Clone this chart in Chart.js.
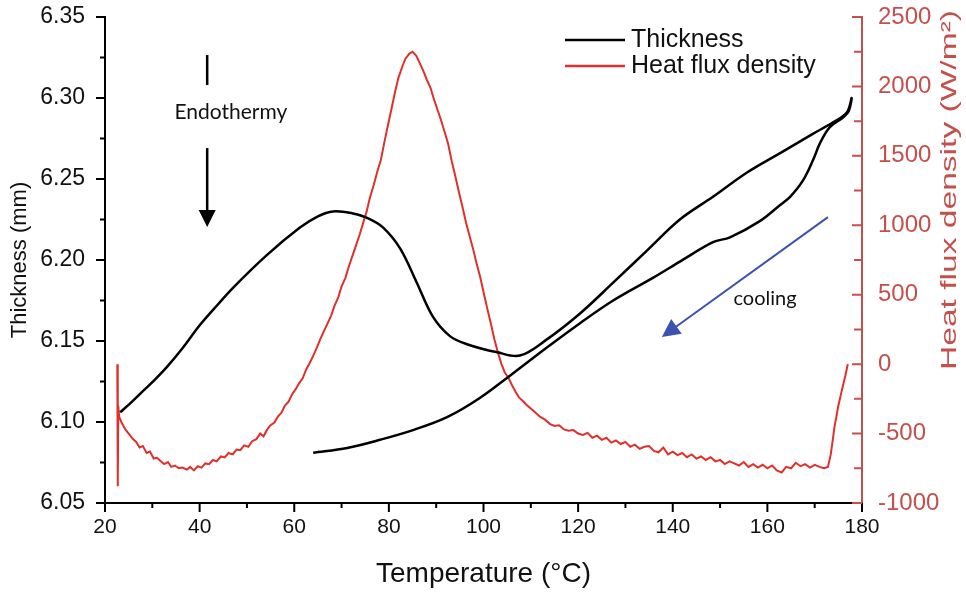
<!DOCTYPE html>
<html>
<head>
<meta charset="utf-8">
<script src="https://cdn.jsdelivr.net/npm/chart.js@4.4.1/dist/chart.umd.min.js"></script>
<style>
  html, body { margin: 0; padding: 0; background: #fff; }
  #wrap { width: 966px; height: 595px; position: relative; }
</style>
</head>
<body>
<div id="wrap"><canvas id="chart"></canvas></div>
<script>
// Thickness loop: heating 23 -> 178 °C, then cooling back to 64 °C
const thickTemp = [23.2, 25.5, 28, 30.5, 33.1, 36.5, 40.1, 44, 47.1, 54.2, 61.2, 65, 68.2, 72, 75.4, 78.8, 82.4, 85.9, 89.3, 92.9, 96.5, 102.9, 107.7,
    113.4, 120.4, 127.4, 134.6, 141.5, 148.5, 155.7, 162.7, 169.7, 173.9, 176.8, 177.8,
    177.2, 176.0, 173.2, 171.1, 169.7, 167.5, 164.8, 162.7, 158.4, 152.1, 148.5, 141.5, 135.8, 127.4, 120.4, 113.4,
    106.2, 99.3, 92.3, 85.1, 78.1, 71.2, 64.0];
const thickMM = [6.106, 6.112, 6.119, 6.126, 6.134, 6.146, 6.160, 6.173, 6.183, 6.203, 6.220, 6.227, 6.230, 6.229, 6.226, 6.220, 6.207, 6.186, 6.165, 6.153, 6.148, 6.143, 6.141,
    6.151, 6.167, 6.186, 6.206, 6.225, 6.239, 6.254, 6.266, 6.278, 6.285, 6.291, 6.300,
    6.292, 6.288, 6.282, 6.272, 6.262, 6.249, 6.239, 6.234, 6.224, 6.214, 6.211, 6.199, 6.189, 6.175, 6.161, 6.146,
    6.130, 6.115, 6.103, 6.095, 6.089, 6.084, 6.081];

// Heat flux density (W/m²)
const heatTemp = [22.6, 22.7, 22.8, 23.0, 23.5, 24.3, 25.0, 25.9, 26.6, 27.3, 28.0, 28.8, 29.5, 30.3, 31.0, 31.8, 32.5, 33.3, 34.0, 34.8,
    35.6, 36.4, 37.3, 38.0, 38.8, 39.6, 40.4, 41.2, 42.0, 42.8, 43.6, 44.5, 45.3, 46.1, 47.0, 47.8, 48.6, 49.4, 50.3, 51.1,
    52.0, 52.8, 53.5, 54.3, 55.0, 55.8, 56.5, 57.3, 58.0, 58.8, 59.5, 60.3, 61.0, 61.8, 62.5, 63.3, 64.0, 64.8, 65.5, 66.3,
    67.0, 67.8, 68.5, 69.3, 70.0, 70.8, 71.5, 72.3, 73.0, 73.8, 74.5, 75.3, 76.0, 76.8, 77.5, 78.3, 79.0, 79.8, 80.5, 81.3,
    82.0, 82.8, 83.5, 84.3, 85.0, 85.8, 86.5, 87.3, 88.0, 88.8, 89.5, 90.3, 91.0, 91.8, 92.5, 93.3, 94.0, 94.8, 95.5, 96.3,
    97.0, 97.8, 98.5, 99.3, 100.0, 100.8, 101.5, 102.3, 103.0, 103.8, 104.5, 105.3, 106.0, 106.8, 107.5, 108.3, 109.0, 110.0,
    111.0, 112.0, 113.0, 114.0, 115.0, 116.0, 117.0, 118.0, 119.0, 120.0, 121.0, 122.0, 123.0, 124.0, 125.0, 126.0, 127.0,
    128.0, 129.0, 130.0, 131.0, 132.0, 133.0, 134.0, 135.0, 136.0, 137.0, 138.0, 139.0, 140.0, 141.0, 142.0, 143.0, 144.0,
    145.0, 146.0, 147.0, 148.0, 149.0, 150.0, 151.0, 152.0, 153.0, 154.0, 155.0, 156.0, 157.0, 158.0, 159.0, 160.0, 161.0,
    162.0, 163.0, 164.0, 165.0, 166.0, 167.0, 168.0, 169.0, 170.0, 171.0, 172.0, 172.8, 173.4, 174.2, 175.0, 175.8, 176.5, 177.0];
const heatFlux = [0, -880, -300, -380, -420, -470, -500, -540, -560, -600, -590, -640, -630, -680, -675, -700, -720, -705, -740, -730,
    -750, -745, -760, -740, -765, -735, -745, -715, -720, -690, -700, -665, -672, -640, -650, -615, -620, -585, -595, -555,
    -540, -500, -520, -470, -440, -420, -380, -350, -300, -270, -220, -180, -140, -100, -40, 10, 60, 120, 180, 240,
    290, 350, 420, 480, 560, 620, 700, 780, 850, 930, 1010, 1100, 1200, 1290, 1380, 1470, 1590, 1720, 1830, 1960,
    2060, 2140, 2200, 2235, 2250, 2220, 2170, 2110, 2050, 1990, 1910, 1830, 1760, 1670, 1590, 1460, 1360, 1240, 1140, 1020,
    930, 830, 730, 628, 520, 400, 300, 180, 90, 0, -60, -100, -150, -200, -240, -265, -290, -320,
    -350, -380, -400, -430, -445, -440, -470, -480, -475, -500, -510, -495, -530, -515, -545, -530, -565,
    -550, -575, -560, -595, -580, -610, -595, -590, -625, -635, -600, -650, -630, -655, -640, -670, -650,
    -680, -665, -690, -670, -700, -690, -720, -700, -715, -730, -705, -740, -720, -745, -725, -750, -730,
    -765, -780, -740, -750, -710, -735, -720, -745, -725, -740, -750, -740, -650, -450, -300, -180, -80, 0];

const tempTicks = [20, 40, 60, 80, 100, 120, 140, 160, 180];
const thickTicks = [6.05, 6.10, 6.15, 6.20, 6.25, 6.30, 6.35];
const fluxTicks = [-1000, -500, 0, 500, 1000, 1500, 2000, 2500];

const RED = '#e0302c';
const AXIS_RED = '#c4504c';
const FONT = "'Liberation Sans', Arial, sans-serif";
const NOTE_FONT = "21px Lato, 'Open Sans', sans-serif";

function setTicks(values) {
    return scale => { scale.ticks = values.map(v => ({ value: v })); };
}

// fixed axis sizes so the plot area sits where the original one does
function fixWidth(w) {
    return s => { s.width = w; s.paddingTop = 0; s.paddingBottom = 0; };
}

// tick marks: major at labels, minor halfway; right axis points inward
const tickMarks = {
    id: 'tickMarks',
    afterDraw(chart) {
        const { ctx, chartArea: a, scales } = chart;
        const minors = vals => vals.slice(1).map((v, i) => (v + vals[i]) / 2);
        ctx.save();
        ctx.lineWidth = 2;
        ctx.strokeStyle = '#000';
        ctx.beginPath();
        tempTicks.forEach(v => { const p = scales.x.getPixelForValue(v); ctx.moveTo(p, a.bottom); ctx.lineTo(p, a.bottom + 9); });
        minors(tempTicks).forEach(v => { const p = scales.x.getPixelForValue(v); ctx.moveTo(p, a.bottom); ctx.lineTo(p, a.bottom + 5); });
        thickTicks.forEach(v => { const p = scales.y.getPixelForValue(v); ctx.moveTo(a.left, p); ctx.lineTo(a.left - 9, p); });
        minors(thickTicks).forEach(v => { const p = scales.y.getPixelForValue(v); ctx.moveTo(a.left, p); ctx.lineTo(a.left - 5, p); });
        ctx.stroke();
        ctx.strokeStyle = AXIS_RED;
        ctx.beginPath();
        fluxTicks.forEach(v => { const p = scales.y1.getPixelForValue(v); ctx.moveTo(a.right, p); ctx.lineTo(a.right - 10, p); });
        minors(fluxTicks).forEach(v => { const p = scales.y1.getPixelForValue(v); ctx.moveTo(a.right, p); ctx.lineTo(a.right - 8, p); });
        ctx.stroke();
        ctx.restore();
    }
};

// arrow helper in pixel space
function arrow(ctx, x0, y0, x1, y1, color, head) {
    const ang = Math.atan2(y1 - y0, x1 - x0);
    ctx.strokeStyle = color;
    ctx.fillStyle = color;
    ctx.beginPath();
    ctx.moveTo(x0, y0);
    ctx.lineTo(x1 - Math.cos(ang) * head * 0.8, y1 - Math.sin(ang) * head * 0.8);
    ctx.stroke();
    ctx.beginPath();
    ctx.moveTo(x1, y1);
    ctx.lineTo(x1 - Math.cos(ang) * head + Math.sin(ang) * head * 0.5, y1 - Math.sin(ang) * head - Math.cos(ang) * head * 0.5);
    ctx.lineTo(x1 - Math.cos(ang) * head - Math.sin(ang) * head * 0.5, y1 - Math.sin(ang) * head + Math.cos(ang) * head * 0.5);
    ctx.closePath();
    ctx.fill();
}

const notes = {
    id: 'notes',
    afterDraw(chart) {
        const { ctx, scales: { x, y } } = chart;
        ctx.save();
        // Endothermy marker
        const ex = x.getPixelForValue(41.6);
        ctx.lineWidth = 2.5;
        ctx.strokeStyle = '#000';
        ctx.beginPath();
        ctx.moveTo(ex, y.getPixelForValue(6.3265));
        ctx.lineTo(ex, y.getPixelForValue(6.308));
        ctx.stroke();
        arrow(ctx, ex, y.getPixelForValue(6.2691), ex, y.getPixelForValue(6.2204), '#000', 17);
        ctx.font = NOTE_FONT;
        ctx.fillStyle = '#111';
        ctx.textAlign = 'center';
        ctx.textBaseline = 'middle';
        ctx.fillText('Endothermy', x.getPixelForValue(46.6), y.getPixelForValue(6.2914));

        // cooling arrow
        ctx.lineWidth = 2;
        arrow(ctx, x.getPixelForValue(172.8), y.getPixelForValue(6.2265),
            x.getPixelForValue(137.7), y.getPixelForValue(6.1525), '#3d52ad', 18);
        ctx.fillStyle = '#111';
        ctx.font = "20px Lato, 'Open Sans', sans-serif";
        ctx.fillText('cooling', x.getPixelForValue(159.5), y.getPixelForValue(6.1765));

        // legend
        ctx.lineWidth = 2.5;
        ctx.strokeStyle = '#000';
        ctx.beginPath(); ctx.moveTo(565, 40); ctx.lineTo(625, 40); ctx.stroke();
        ctx.strokeStyle = RED;
        ctx.beginPath(); ctx.moveTo(565, 66); ctx.lineTo(625, 66); ctx.stroke();
        ctx.font = '25px ' + FONT;
        ctx.fillStyle = '#111';
        ctx.textAlign = 'left';
        ctx.fillText('Thickness', 631, 40);
        ctx.fillText('Heat flux density', 631, 66);

        // right axis title
        ctx.translate(950, 190);
        ctx.rotate(-Math.PI / 2);
        ctx.font = '22px ' + FONT;
        ctx.fillStyle = AXIS_RED;
        ctx.textAlign = 'center';
        const label = 'Heat flux density (W/m²)';
        const w = ctx.measureText(label).width;
        ctx.scale(360 / w, 1);
        ctx.fillText(label, 0, 0);
        ctx.restore();
    }
};

const ctx = document.getElementById('chart').getContext('2d');
new Chart(ctx, {
    type: 'line',
    data: {
        datasets: [{
            label: 'Thickness',
            data: thickTemp.map((t, i) => ({ x: t, y: thickMM[i] })),
            borderColor: '#000',
            borderWidth: 2.5,
            yAxisID: 'y',
            tension: 0.35
        }, {
            label: 'Heat flux density',
            data: heatTemp.map((t, i) => ({ x: t, y: heatFlux[i] })),
            borderColor: RED,
            borderWidth: 2,
            yAxisID: 'y1',
            tension: 0
        }]
    },
    options: {
        responsive: true,
        maintainAspectRatio: false,
        animation: false,
        parsing: false,
        elements: { point: { radius: 0 } },
        layout: { padding: { top: 17, left: 0, right: 0, bottom: 0 } },
        plugins: { legend: { display: false }, tooltip: { enabled: false } },
        scales: {
            x: {
                type: 'linear',
                min: 20, max: 180,
                afterBuildTicks: setTicks(tempTicks),
                afterFit: s => { s.height = 92; },
                grid: { display: false, drawTicks: false },
                border: { display: true, color: '#000', width: 2 },
                ticks: { color: '#111', padding: 12, font: { family: FONT, size: 21 } },
                title: { display: true, text: 'Temperature (°C)', color: '#111', font: { family: FONT, size: 28 }, padding: { top: 6 } }
            },
            y: {
                position: 'left',
                min: 6.05, max: 6.35,
                afterBuildTicks: setTicks(thickTicks),
                afterFit: fixWidth(105),
                grid: { display: false, drawTicks: false },
                border: { display: true, color: '#000', width: 2 },
                ticks: { color: '#111', padding: 20, font: { family: FONT, size: 23 }, callback: v => v.toFixed(2) },
                title: { display: true, text: 'Thickness (mm)', color: '#111', font: { family: FONT, size: 22 }, padding: { top: 7, bottom: 0 } }
            },
            y1: {
                position: 'right',
                min: -1000, max: 2500,
                afterBuildTicks: setTicks(fluxTicks),
                afterFit: fixWidth(104),
                grid: { display: false, drawTicks: false },
                border: { display: true, color: AXIS_RED, width: 2 },
                ticks: { color: AXIS_RED, padding: 16, font: { family: FONT, size: 24 }, callback: v => String(v) }
            }
        }
    },
    plugins: [tickMarks, notes]
});
</script>
</body>
</html>
